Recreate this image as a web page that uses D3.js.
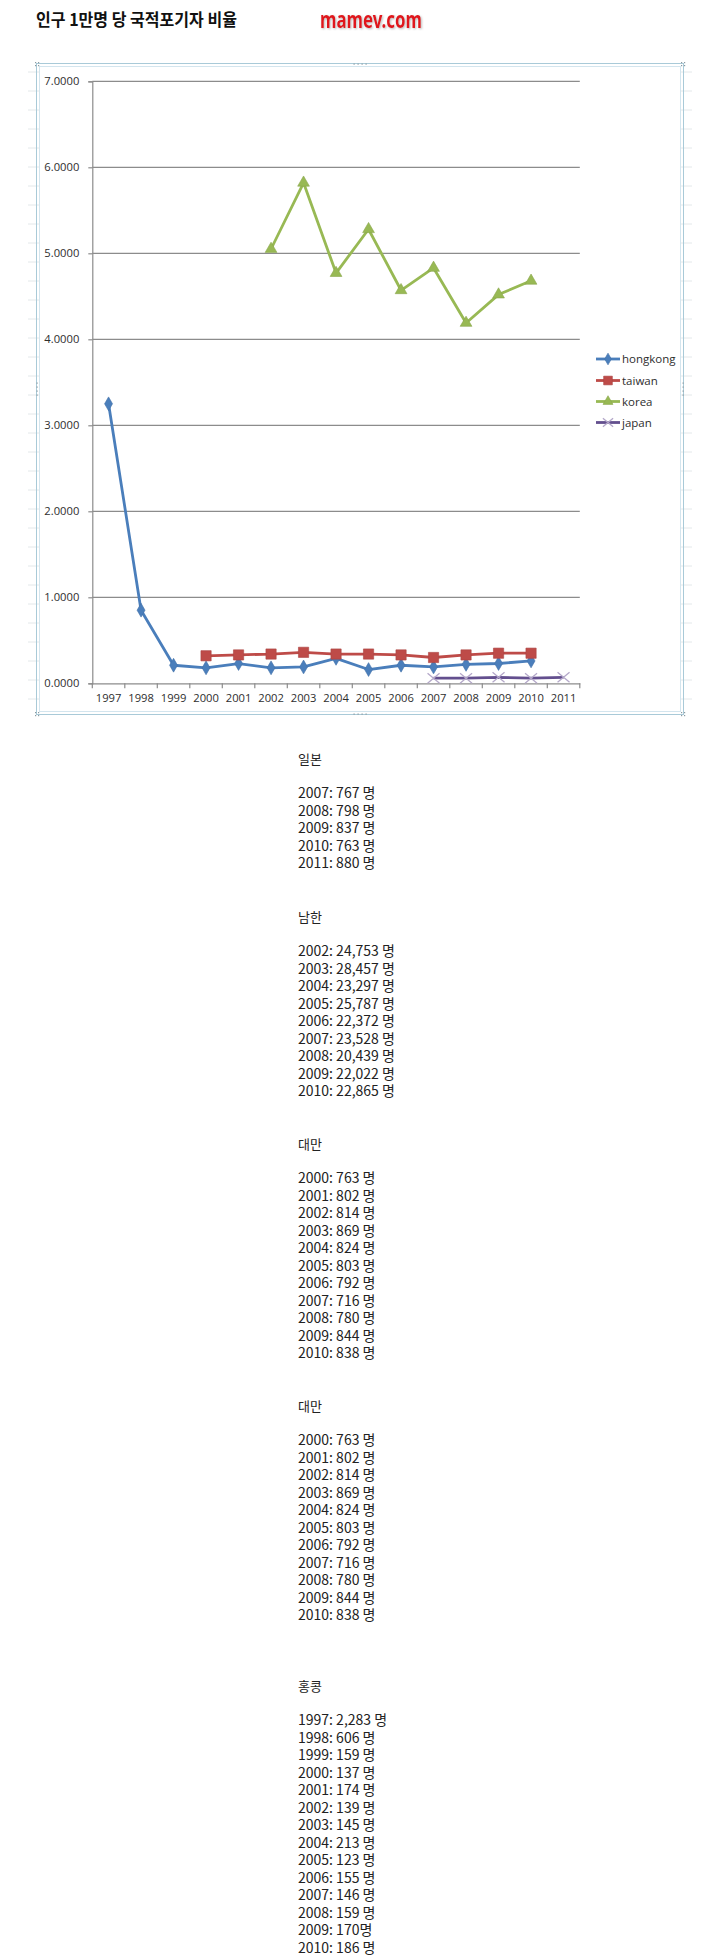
<!DOCTYPE html>
<html>
<head>
<meta charset="utf-8">
<script src="https://cdn.jsdelivr.net/npm/d3@7"></script>
<style>
  body { margin: 0; background: #fff; }
  svg { display: block; }
</style>
</head>
<body>
<div id="chart"></div>
<script>
// categories + tick values
const years = [1997, 1998, 1999, 2000, 2001, 2002, 2003, 2004, 2005, 2006, 2007, 2008, 2009, 2010, 2011];
const yTicks = [0, 1, 2, 3, 4, 5, 6, 7];

// ratio per 10,000 people
const hongkongYears = [1997, 1998, 1999, 2000, 2001, 2002, 2003, 2004, 2005, 2006, 2007, 2008, 2009, 2010];
const hongkongRatio = [3.25, 0.85, 0.21, 0.18, 0.23, 0.18, 0.19, 0.29, 0.16, 0.21, 0.19, 0.22, 0.23, 0.26];
const taiwanYears = [2000, 2001, 2002, 2003, 2004, 2005, 2006, 2007, 2008, 2009, 2010];
const taiwanRatio = [0.32, 0.33, 0.34, 0.36, 0.34, 0.34, 0.33, 0.30, 0.33, 0.35, 0.35];
const koreaYears = [2002, 2003, 2004, 2005, 2006, 2007, 2008, 2009, 2010];
const koreaRatio = [5.05, 5.82, 4.77, 5.28, 4.57, 4.83, 4.19, 4.52, 4.68];
const japanYears = [2007, 2008, 2009, 2010, 2011];
const japanRatio = [0.06, 0.06, 0.07, 0.06, 0.07];

// text lists under the chart
const listTitles = ["일본", "남한", "대만", "대만", "홍콩"];
const japanLines = ["2007: 767 명", "2008: 798 명", "2009: 837 명", "2010: 763 명", "2011: 880 명"];
const koreaLines = ["2002: 24,753 명", "2003: 28,457 명", "2004: 23,297 명", "2005: 25,787 명", "2006: 22,372 명",
                    "2007: 23,528 명", "2008: 20,439 명", "2009: 22,022 명", "2010: 22,865 명"];
const taiwanLines = ["2000: 763 명", "2001: 802 명", "2002: 814 명", "2003: 869 명", "2004: 824 명", "2005: 803 명",
                     "2006: 792 명", "2007: 716 명", "2008: 780 명", "2009: 844 명", "2010: 838 명"];
const hongkongLines = ["1997: 2,283 명", "1998: 606 명", "1999: 159 명", "2000: 137 명", "2001: 174 명", "2002: 139 명",
                       "2003: 145 명", "2004: 213 명", "2005: 123 명", "2006: 155 명", "2007: 146 명", "2008: 159 명",
                       "2009: 170명", "2010: 186 명"];

const series = [
  {name: "hongkong", years: hongkongYears, values: hongkongRatio, color: "#4a7ebb", marker: "diamond"},
  {name: "taiwan", years: taiwanYears, values: taiwanRatio, color: "#be4b48", marker: "square"},
  {name: "korea", years: koreaYears, values: koreaRatio, color: "#98b954", marker: "triangle"},
  {name: "japan", years: japanYears, values: japanRatio, color: "#634f8e", marker: "x"}
];

const axisFont = "'Open Sans', 'Liberation Sans', sans-serif";
const krFont = "'Noto Sans CJK KR', sans-serif";

const svg = d3.select("#chart").append("svg")
    .attr("width", 720)
    .attr("height", 1959);

// header
svg.append("text")
    .attr("x", 36).attr("y", 26)
    .attr("font-family", krFont).attr("font-weight", 700).attr("font-size", 17)
    .attr("textLength", 201).attr("lengthAdjust", "spacingAndGlyphs")
    .attr("fill", "#111")
    .text("인구 1만명 당 국적포기자 비율");

const defs = svg.append("defs");
const shadow = defs.append("filter").attr("id", "shd").attr("x", "-10%").attr("y", "-30%").attr("width", "120%").attr("height", "160%");
shadow.append("feDropShadow").attr("dx", 1).attr("dy", 1).attr("stdDeviation", 1.2).attr("flood-color", "#999").attr("flood-opacity", 0.7);

svg.append("text")
    .attr("x", 320).attr("y", 28)
    .attr("font-family", "'Noto Sans', sans-serif").attr("font-weight", 700).attr("font-size", 23)
    .attr("textLength", 102).attr("lengthAdjust", "spacingAndGlyphs")
    .attr("fill", "#e0161b")
    .attr("filter", "url(#shd)")
    .text("mamev.com");

// excel-like selected chart frame
const frame = svg.append("g");
for (let yy = 72; yy < 715; yy += 19) {
  frame.append("line").attr("x1", 28).attr("x2", 40).attr("y1", yy).attr("y2", yy).attr("stroke", "#e3e8ea");
  frame.append("line").attr("x1", 680).attr("x2", 692).attr("y1", yy).attr("y2", yy).attr("stroke", "#e3e8ea");
}
frame.append("rect").attr("x", 36.5).attr("y", 63.5).attr("width", 647).attr("height", 651)
    .attr("fill", "none").attr("stroke", "#a9cad8");
frame.append("rect").attr("x", 39.5).attr("y", 66.5).attr("width", 641).attr("height", 645)
    .attr("fill", "#fff").attr("stroke", "#d3e5ee");
[[360, 64, 1, 0], [360, 714, 1, 0], [37, 389, 0, 1], [683, 389, 0, 1]].forEach(function(h) {
  for (let k = -3; k <= 3; k += 2) {
    frame.append("rect").attr("x", h[0] + k * 2 * h[2] - 0.5).attr("y", h[1] + k * 2 * h[3] - 0.5)
        .attr("width", 1.2).attr("height", 1.2).attr("fill", "#8a9aa2");
  }
});
[[37, 64], [683, 64], [37, 714], [683, 714]].forEach(function(c) {
  [[-1, -1], [1, -1], [-1, 1], [1, 1]].forEach(function(o) {
    frame.append("rect").attr("x", c[0] + o[0] * 1.5 - 0.5).attr("y", c[1] + o[1] * 1.5 - 0.5)
        .attr("width", 1.2).attr("height", 1.2).attr("fill", "#8a9aa2");
  });
});

// scales
const x = d3.scaleBand().domain(years).range([92.3, 579.8]).padding(0);
const y = d3.scaleLinear().domain([0, 7]).range([683.3, 81.3]);
const cx = function(yr) { return x(yr) + x.bandwidth() / 2; };

// gridlines
svg.append("g").selectAll("line")
    .data(yTicks.filter(function(d) { return d > 0; }))
    .enter().append("line")
      .attr("x1", x.range()[0]).attr("x2", x.range()[1])
      .attr("y1", function(d) { return y(d); }).attr("y2", function(d) { return y(d); })
      .attr("stroke", "#8c8c8c").attr("stroke-width", 1.2);

// y axis
const yAxis = svg.append("g")
    .attr("transform", "translate(" + x.range()[0] + ",0)")
    .call(d3.axisLeft(y).tickValues(yTicks).tickFormat(d3.format(".4f")).tickSize(4).tickPadding(9));
yAxis.selectAll("path, line").attr("stroke", "#8c8c8c").attr("stroke-width", 1.2);
yAxis.selectAll("text").attr("font-family", axisFont).attr("font-size", 11.2).attr("fill", "#2e2e2e");

// x axis (labels centred, ticks on category boundaries)
const xAxis = svg.append("g")
    .attr("transform", "translate(0," + y(0) + ")")
    .call(d3.axisBottom(x).tickSize(0).tickPadding(11).tickSizeOuter(0));
xAxis.select(".domain").attr("stroke", "#8c8c8c").attr("stroke-width", 1.2);
xAxis.selectAll("text").attr("font-family", axisFont).attr("font-size", 11.2).attr("fill", "#2e2e2e");
xAxis.selectAll(".bound")
    .data(years.map(function(d) { return x(d); }).concat([x.range()[1]]))
    .enter().append("line")
      .attr("x1", function(d) { return d; }).attr("x2", function(d) { return d; })
      .attr("y1", 0).attr("y2", 5)
      .attr("stroke", "#8c8c8c").attr("stroke-width", 1.2);

// markers
function drawMarker(g, s, px, py, scale) {
  scale = scale || 1;
  if (s.marker === "x") {
    const w = 6 * scale, h = 5 * scale;
    g.append("path")
        .attr("d", "M" + (px - w) + "," + (py - h) + "L" + (px + w) + "," + (py + h) +
                   "M" + (px - w) + "," + (py + h) + "L" + (px + w) + "," + (py - h))
        .attr("stroke", "#b4a8c9").attr("stroke-width", 1.3).attr("fill", "none");
    return;
  }
  const type = {diamond: d3.symbolDiamond, square: d3.symbolSquare, triangle: d3.symbolTriangle}[s.marker];
  const size = {diamond: 55, square: 105, triangle: 60}[s.marker] * scale * scale;
  g.append("path")
      .attr("d", d3.symbol().type(type).size(size)())
      .attr("transform", "translate(" + px + "," + py + ")")
      .attr("fill", s.color).attr("stroke", d3.color(s.color).darker(0.3)).attr("stroke-width", 0.6);
}

const line = d3.line()
    .x(function(d) { return cx(d.year); })
    .y(function(d) { return y(d.value); });

series.forEach(function(s) {
  const pts = s.years.map(function(yr, i) { return {year: yr, value: s.values[i]}; });
  const g = svg.append("g");
  g.append("path")
      .attr("d", line(pts))
      .attr("fill", "none")
      .attr("stroke", s.color)
      .attr("stroke-width", 2.8)
      .attr("stroke-linejoin", "round");
  pts.forEach(function(p) { drawMarker(g, s, cx(p.year), y(p.value)); });
});

// legend
const legendY = [359, 380.5, 401.5, 422.5];
series.forEach(function(s, i) {
  const g = svg.append("g");
  g.append("line").attr("x1", 596).attr("x2", 620).attr("y1", legendY[i]).attr("y2", legendY[i])
      .attr("stroke", s.color).attr("stroke-width", 2.8);
  drawMarker(g, s, 608, legendY[i], 0.85);
  g.append("text").attr("x", 622).attr("y", legendY[i]).attr("dy", "0.35em")
      .attr("font-family", axisFont).attr("font-size", 11.5).attr("fill", "#2e2e2e")
      .text(s.name);
});

// text lists
const groups = [japanLines, koreaLines, taiwanLines, taiwanLines, hongkongLines];
const groupTop = [759, 917, 1144, 1406, 1686];
const listFont = "'Liberation Sans Narrow', 'Noto Sans CJK KR', sans-serif";
groups.forEach(function(lines, gi) {
  const g = svg.append("g").attr("transform", "translate(298," + groupTop[gi] + ")");
  g.append("text").attr("y", 0).attr("dy", "0.36em")
      .attr("font-family", krFont).attr("font-size", 13).attr("fill", "#222")
      .text(listTitles[gi]);
  g.selectAll(".row")
      .data(lines)
      .enter().append("text")
        .attr("y", function(d, i) { return 34 + i * 17.5; })
        .attr("dy", "0.36em")
        .attr("font-family", listFont).attr("font-size", 14).attr("fill", "#222")
        .text(function(d) { return d; });
});
</script>
</body>
</html>
